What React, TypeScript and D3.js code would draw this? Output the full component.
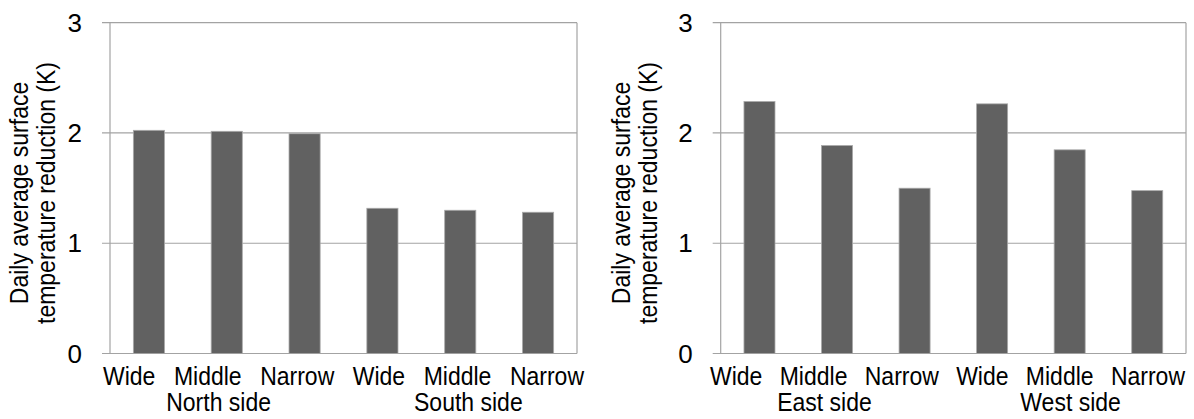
import React from 'react';
import * as d3 from 'd3';

const categories = ['Wide', 'Middle', 'Narrow', 'Wide', 'Middle', 'Narrow'];
const leftGroups = ['North side', 'South side'];
const rightGroups = ['East side', 'West side'];
const leftValues = [2.024, 2.015, 1.993, 1.317, 1.299, 1.281];
const rightValues = [2.285, 1.886, 1.499, 2.264, 1.847, 1.477];
const yTicks = [0, 1, 2, 3];
const axisTitle = ['Daily average surface', 'temperature reduction (K)'];

const FONT = '"Liberation Sans", Arial, sans-serif';
const LABEL_SIZE = 25;
const SQUEEZE = 0.92;
const TICK_SIZE = 26;
const GRID = '#a3a3a3';
const BAR = '#616161';

let ctx: CanvasRenderingContext2D | null = null;
function textWidth(s: string, size: number): number {
  if (!ctx) {
    const c = document.createElement('canvas');
    ctx = c.getContext('2d');
  }
  if (!ctx) return s.length * size * 0.5;
  ctx.font = `${size}px ${FONT}`;
  return ctx.measureText(s).width;
}

type PanelProps = {
  x0: number;
  x1: number;
  values: number[];
  groups: string[];
  titleX: number;
  labelStart: number;
  labelEnd: number;
};

function Panel({ x0, x1, values, groups, titleX, labelStart, labelEnd }: PanelProps) {
  const top = 22.7;
  const bottom = 353.5;
  const idx = categories.map((_, i) => i);
  const x = d3.scaleBand<number>().domain(idx).range([x0, x1]).paddingInner(0.6).paddingOuter(0.3);
  const y = d3.scaleLinear().domain([0, 3]).range([bottom, top]);

  const widths = categories.map((c) => textWidth(c, LABEL_SIZE) * SQUEEZE);
  const total = widths.reduce((a, b) => a + b, 0);
  const gap = (labelEnd - labelStart - total) / (categories.length - 1);
  const labelX: number[] = [];
  let cur = labelStart;
  widths.forEach((w) => {
    labelX.push(cur);
    cur += w + gap;
  });

  const groupCenter = (g: number) => {
    const a = g * 3;
    const b = g * 3 + 2;
    return (labelX[a] + labelX[b] + widths[b]) / 2;
  };
  const titleY = 193;

  return (
    <g>
      {yTicks.map((t) => (
        <g key={t}>
          <line x1={x0 - 8} x2={x1} y1={y(t)} y2={y(t)} stroke={GRID} strokeWidth={1.2} />
          <text
            x={x0 - 28}
            y={y(t)}
            textAnchor="end"
            dominantBaseline="central"
            fontSize={TICK_SIZE}
            fontFamily={FONT}
            fill="#000"
          >
            {t}
          </text>
        </g>
      ))}
      <line x1={x0} x2={x0} y1={top} y2={bottom} stroke={GRID} strokeWidth={1.2} />
      <line x1={x1} x2={x1} y1={top} y2={bottom} stroke={GRID} strokeWidth={1.2} />
      {values.map((v, i) => (
        <rect
          key={i}
          x={x(i)}
          y={y(v)}
          width={x.bandwidth()}
          height={y(0) - y(v)}
          fill={BAR}
          stroke="#a9a9a9"
          strokeWidth={0.8}
        />
      ))}
      {categories.map((c, i) => (
        <text
          key={i}
          transform={`translate(${labelX[i]},385) scale(${SQUEEZE},1)`}
          fontSize={LABEL_SIZE}
          fontFamily={FONT}
          fill="#000"
        >
          {c}
        </text>
      ))}
      {groups.map((g, gi) => (
        <text
          key={g}
          transform={`translate(${groupCenter(gi)},411) scale(${SQUEEZE},1)`}
          textAnchor="middle"
          fontSize={LABEL_SIZE}
          fontFamily={FONT}
          fill="#000"
        >
          {g}
        </text>
      ))}
      {axisTitle.map((line, li) => (
        <text
          key={li}
          transform={`translate(${titleX + li * 27},${titleY}) rotate(-90) scale(${SQUEEZE},1)`}
          textAnchor="middle"
          fontSize={LABEL_SIZE}
          fontFamily={FONT}
          fill="#000"
        >
          {line}
        </text>
      ))}
    </g>
  );
}

export default function App() {
  return (
    <svg
      width={1194}
      height={419}
      style={{ position: 'absolute', left: 0, top: 0, background: '#fff' }}
    >
      <rect x={0} y={0} width={1194} height={419} fill="#fff" />
      <Panel x0={110} x1={577} values={leftValues} groups={leftGroups} titleX={28} labelStart={103} labelEnd={584} />
      <Panel
        x0={720.7}
        x1={1186}
        values={rightValues}
        groups={rightGroups}
        titleX={630}
        labelStart={710}
        labelEnd={1185}
      />
    </svg>
  );
}
